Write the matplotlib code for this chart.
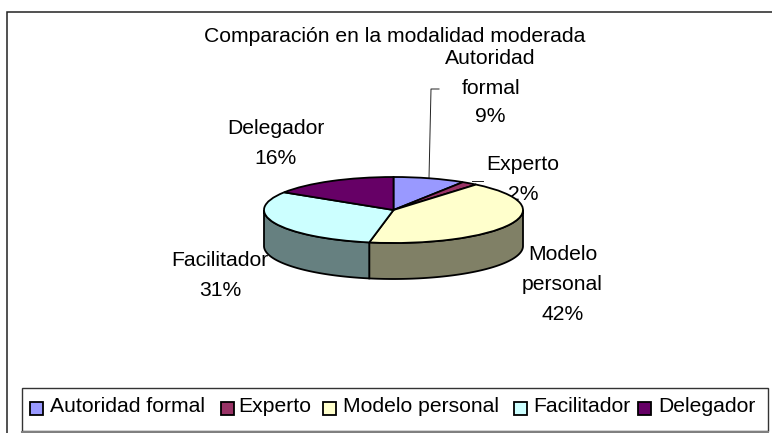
import matplotlib
matplotlib.use('Agg')
import matplotlib.pyplot as plt
from matplotlib.patches import Rectangle
import numpy as np

plt.rcParams['font.family'] = ['Liberation Sans', 'DejaVu Sans']

# Datos del grafico
categorias = ['Autoridad formal', 'Experto', 'Modelo personal', 'Facilitador', 'Delegador']
valores = [9, 2, 42, 31, 16]
colores = ['#9999FF', '#993366', '#FFFFCC', '#CCFFFF', '#660066']
colores_lado = ['#666680', '#66334D', '#808066', '#668080', '#400040']
titulo = 'Comparación en la modalidad moderada'

W, H = 772, 433
fig = plt.figure(figsize=(W / 100, H / 100), dpi=100)

# Ejes de fondo en pixeles, para marco y textos
bg = fig.add_axes([0, 0, 1, 1])
bg.set_xlim(0, W)
bg.set_ylim(H, 0)
bg.axis('off')
bg.plot([7, 7, W], [H, 12, 12], color='#222222', lw=1.1, solid_joinstyle='miter')

# Pie: elipse de 129.5 x 33 px y lado de 36 px
cx, cy, rx, ry, prof = 393.5, 210, 129.5, 33, 36
ax = fig.add_axes([(cx - rx) / W, 1 - (cy + ry + prof) / H, 2 * rx / W, (2 * ry + prof) / H])
ax.pie(valores, colors=colores, startangle=90, counterclock=False, radius=1,
       wedgeprops=dict(edgecolor='black', linewidth=1.3))
ax.set_aspect('auto')
d = prof / ry
ax.set_xlim(-1, 1)
ax.set_ylim(-1 - d, 1)

# Lado del pie
ini = np.cumsum([0] + valores[:-1]) * 3.6
fin = np.cumsum(valores) * 3.6
for a, b, c in zip(ini, fin, colores_lado):
    a, b = max(a, 90), min(b, 270)
    if a >= b:
        continue
    t = np.radians(np.linspace(a, b, 80))
    x = np.sin(t)
    y = np.cos(t)
    px = np.r_[x, x[::-1]]
    py = np.r_[y, y[::-1] - d]
    ax.fill(px, py, facecolor=c, edgecolor='black', linewidth=1.3, zorder=0, clip_on=False)

# Titulo y etiquetas
fs = 15.2
bg.text(395, 36.5, titulo, ha='center', va='center', fontsize=fs)
etiquetas = [
    (490, 59, 'Autoridad'), (491, 88, 'formal'), (490, 117, '9%'),
    (523, 165, '\u200bExperto'), (523, 195, '2%'),
    (563, 254, 'Modelo'), (562, 284, 'personal'), (563, 314, '42%'),
    (220, 260, 'Facilitador'), (220, 290, '31%'),
    (276, 128, 'Delegador'), (276, 158, '16%'),
]
etiquetas[3] = (523, 165, 'Experto')
for x, y, s in etiquetas:
    bg.text(x, y, s, ha='center', va='center', fontsize=fs, zorder=5)

# Lineas guia
bg.plot([439, 431, 429], [89, 89, 178], color='#222222', lw=0.7)
bg.plot([472, 483], [181, 181], color='#222222', lw=0.7)

# Leyenda
bg.add_patch(Rectangle((22, 388), 746, 43, fc='white', ec='#333333', lw=1.0))
bg.plot([22, 768], [431.5, 431.5], color='#808080', lw=1.5)
cuadros = [30, 221, 323, 514, 638]
textos = [50, 238, 343, 533, 658]
for xc, xt, s, c in zip(cuadros, textos, categorias, colores):
    bg.add_patch(Rectangle((xc, 402), 13, 13, fc=c, ec='black', lw=1.3))
    bg.text(xt, 406, s, ha='left', va='center', fontsize=fs)

fig.savefig('out.png', dpi=100)
